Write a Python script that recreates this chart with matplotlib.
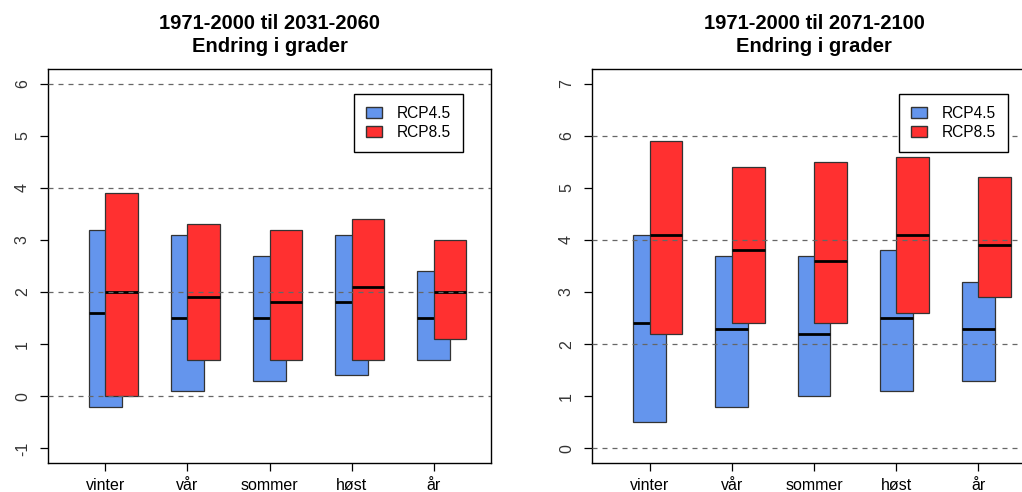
import numpy as np
import matplotlib
matplotlib.use("Agg")
import matplotlib.pyplot as plt
from matplotlib.patches import Patch

plt.rcParams['font.family'] = ['Liberation Sans', 'DejaVu Sans']

sesonger = ['vinter', 'vår', 'sommer', 'høst', 'år']

# 1971-2000 til 2031-2060
rcp45_lav_1 = [-0.2, 0.1, 0.3, 0.4, 0.7]
rcp45_hoy_1 = [3.2, 3.1, 2.7, 3.1, 2.4]
rcp45_med_1 = [1.6, 1.5, 1.5, 1.8, 1.5]
rcp85_lav_1 = [0.0, 0.7, 0.7, 0.7, 1.1]
rcp85_hoy_1 = [3.9, 3.3, 3.2, 3.4, 3.0]
rcp85_med_1 = [2.0, 1.9, 1.8, 2.1, 2.0]

# 1971-2000 til 2071-2100
rcp45_lav_2 = [0.5, 0.8, 1.0, 1.1, 1.3]
rcp45_hoy_2 = [4.1, 3.7, 3.7, 3.8, 3.2]
rcp45_med_2 = [2.4, 2.3, 2.2, 2.5, 2.3]
rcp85_lav_2 = [2.2, 2.4, 2.4, 2.6, 2.9]
rcp85_hoy_2 = [5.9, 5.4, 5.5, 5.6, 5.2]
rcp85_med_2 = [4.1, 3.8, 3.6, 4.1, 3.9]

blaa = '#6495ED'
roed = '#FF3030'
kant = '#333333'

fig = plt.figure(figsize=(10.22, 4.92), dpi=100)
ax1 = fig.add_axes([48/1022, 29/492, 443/1022, 394/492])
ax2 = fig.add_axes([592/1022, 29/492, 444/1022, 394/492])


def tegn(ax, lav45, hoy45, med45, lav85, hoy85, med85, ylim, yticks, tittel):
    x = np.arange(1, len(sesonger) + 1)
    lav45 = np.array(lav45); hoy45 = np.array(hoy45)
    lav85 = np.array(lav85); hoy85 = np.array(hoy85)
    ax.bar(x, hoy45 - lav45, bottom=lav45, width=0.4, color=blaa,
           edgecolor=kant, linewidth=0.9, zorder=2)
    ax.hlines(med45, x - 0.2, x + 0.2, color='black', linewidth=2, zorder=3)
    ax.bar(x + 0.2, hoy85 - lav85, bottom=lav85, width=0.4, color=roed,
           edgecolor=kant, linewidth=0.9, zorder=4)
    ax.hlines(med85, x, x + 0.4, color='black', linewidth=2, zorder=5)
    for g in [0, 2, 4, 6]:
        ax.axhline(g, color='#666666', linestyle=(0, (4, 4)), linewidth=0.9, zorder=6)
    ax.set_xlim(0.3, 5.7)
    ax.set_ylim(*ylim)
    ax.set_xticks(x)
    ax.set_xticklabels(sesonger, fontsize=11.5)
    ax.set_yticks(yticks)
    ax.set_yticklabels([str(t) for t in yticks], rotation=90, va='center',
                       fontsize=11.5, color='#333333')
    ax.tick_params(axis='both', length=6, width=0.9, pad=7)
    ax.tick_params(axis='x', pad=5)
    for s in ax.spines.values():
        s.set_linewidth(1.0)
    ax.set_title(tittel, fontsize=14.5, fontweight='bold', pad=12, linespacing=1.3)
    handles = [Patch(facecolor=blaa, edgecolor=kant, label='RCP4.5'),
               Patch(facecolor=roed, edgecolor=kant, label='RCP8.5')]
    leg = ax.legend(handles=handles, loc='upper right',
                    bbox_to_anchor=(1 - 28/443, 1 - 25/394), fontsize=11.2,
                    fancybox=False, framealpha=1, edgecolor='black',
                    handlelength=1.0, handleheight=0.7, handletextpad=1.0,
                    borderpad=0.75, labelspacing=0.3, borderaxespad=0)
    leg.get_frame().set_linewidth(1.0)
    leg.set_zorder(10)


tegn(ax1, rcp45_lav_1, rcp45_hoy_1, rcp45_med_1, rcp85_lav_1, rcp85_hoy_1, rcp85_med_1,
     (-1.28, 6.28), list(range(-1, 7)), '1971-2000 til 2031-2060\nEndring i grader')
tegn(ax2, rcp45_lav_2, rcp45_hoy_2, rcp45_med_2, rcp85_lav_2, rcp85_hoy_2, rcp85_med_2,
     (-0.28, 7.28), list(range(0, 8)), '1971-2000 til 2071-2100\nEndring i grader')

fig.savefig('out.png', dpi=100)
